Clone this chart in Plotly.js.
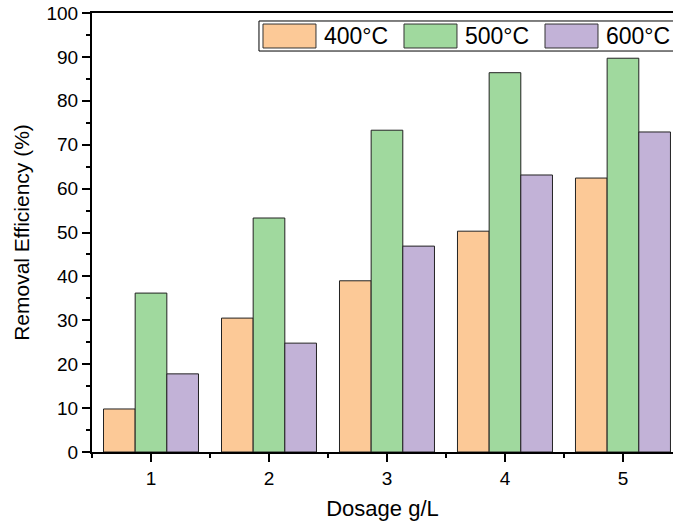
<!DOCTYPE html>
<html>
<head>
<meta charset="utf-8">
<script src="https://cdn.plot.ly/plotly-3.0.1.min.js"></script>
<style>html,body{margin:0;padding:0;overflow:hidden;background:#fff}</style>
</head>
<body>
<div id="chart" style="width:673px;height:523px"></div>
<script>
const dosage = [1, 2, 3, 4, 5];
const seriesNames = ['400°C', '500°C', '600°C'];
const eff400 = [9.8, 30.5, 39.0, 50.3, 62.4];
const eff500 = [36.2, 53.3, 73.3, 86.4, 89.7];
const eff600 = [17.8, 24.8, 46.9, 63.1, 72.9];
const colors = ['#FCC997', '#A0D99E', '#C2B2D7'];
const yTicks = [0, 10, 20, 30, 40, 50, 60, 70, 80, 90, 100];

const FONT = 'Liberation Sans, Arial, sans-serif';
const allVals = [eff400, eff500, eff600];
const traces = allVals.map((v, i) => ({
  type: 'bar', x: dosage, y: v, name: seriesNames[i],
  marker: {color: colors[i], line: {color: '#222', width: 1}},
  showlegend: false
}));

// legend drawn as shapes + annotations (large swatches as in reference)
const swX = [0.2943, 0.537, 0.7797];
const swW = 0.0912;
const shapes = [{type: 'rect', xref: 'paper', yref: 'paper', x0: 0.2874, x1: 1.03, y0: 0.9134, y1: 0.9818,
  line: {color: '#000', width: 1}, fillcolor: '#fff', layer: 'above'}];
const annotations = [];
seriesNames.forEach((n, i) => {
  shapes.push({type: 'rect', xref: 'paper', yref: 'paper', x0: swX[i], x1: swX[i] + swW, y0: 0.9203, y1: 0.9749,
    line: {color: '#333', width: 1}, fillcolor: colors[i], layer: 'above'});
  annotations.push({xref: 'paper', yref: 'paper', x: swX[i] + swW + 0.011, y: 0.9476, xanchor: 'left', yanchor: 'middle',
    text: n, showarrow: false, font: {family: FONT, size: 23, color: '#000'}});
});

const layout = {
  width: 673, height: 523,
  margin: {l: 92, r: 0, t: 13, b: 71, pad: 0},
  paper_bgcolor: '#fff', plot_bgcolor: '#fff',
  font: {family: FONT, color: '#000'},
  barmode: 'group', bargap: 0.195, bargroupgap: 0,
  xaxis: {
    range: [0.5, 5.424], tickvals: dosage, ticktext: dosage.map(String),
    showgrid: false, zeroline: false, showline: true, linecolor: '#000', linewidth: 2,
    mirror: true, ticks: 'outside', ticklen: 8, tickwidth: 2, tickcolor: '#000',
    minor: {dtick: 0.5, tick0: 0.5, ticks: 'outside', ticklen: 4, tickwidth: 2, tickcolor: '#000'},
    tickfont: {family: FONT, size: 19, color: '#000'},
    title: {text: 'Dosage g/L', font: {family: FONT, size: 22, color: '#000'}, standoff: 13}
  },
  yaxis: {
    range: [0, 100], tickvals: yTicks, ticktext: yTicks.map(String),
    showgrid: false, zeroline: false, showline: true, linecolor: '#000', linewidth: 2,
    ticks: 'outside', ticklen: 8, tickwidth: 2, tickcolor: '#000',
    minor: {dtick: 5, tick0: 0, ticks: 'outside', ticklen: 4, tickwidth: 2, tickcolor: '#000'},
    tickfont: {family: FONT, size: 19, color: '#000'},
    title: {text: 'Removal Efficiency (%)', font: {family: FONT, size: 21, color: '#000'}, standoff: 11}
  },
  shapes: shapes,
  annotations: annotations
};
Plotly.newPlot('chart', traces, layout, {displayModeBar: false, staticPlot: true});
</script>
</body>
</html>
